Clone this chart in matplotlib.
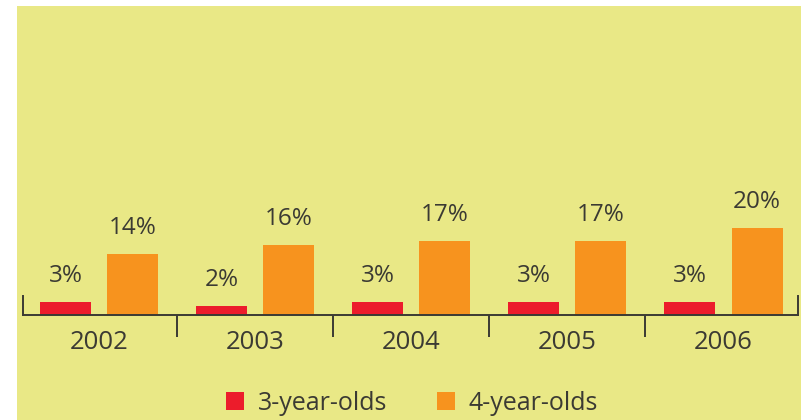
import matplotlib
matplotlib.use("Agg")
import matplotlib.pyplot as plt
import numpy as np
from matplotlib.patches import Rectangle

years = ["2002", "2003", "2004", "2005", "2006"]
three_year_olds = [3, 2, 3, 3, 3]
four_year_olds = [14, 16, 17, 17, 20]

bg = "#e9e886"
red = "#ec1c2b"
orange = "#f7931e"
ink = "#3b3a33"

plt.rcParams["font.family"] = ["Open Sans", "DejaVu Sans"]

fig = plt.figure(figsize=(8.01, 4.2), dpi=100, facecolor="white")
fig.patches.append(Rectangle((17 / 801, 0), 1, 1 - 6 / 420, transform=fig.transFigure,
                             facecolor=bg, edgecolor="none", zorder=-10))

ax = fig.add_axes([23 / 801, 1 - 315 / 420, 775 / 801, 309 / 420])
ax.set_facecolor("none")

x = np.arange(len(years))
w = 0.327
off = 0.215
b1 = ax.bar(x - off, three_year_olds, w, color=red, label="3-year-olds")
b2 = ax.bar(x + off, four_year_olds, w, color=orange, label="4-year-olds")

for bars, vals in [(b1, three_year_olds), (b2, four_year_olds)]:
    for b, v in zip(bars, vals):
        ax.annotate(f"{v}%", (b.get_x() + b.get_width() / 2, v), xytext=(0, 10),
                    textcoords="offset points", ha="center", va="bottom",
                    fontsize=17.5, color=ink)

ax.set_xlim(-0.487, 4.477)
ax.set_ylim(0, 70.9)

ax.spines["top"].set_visible(False)
for s in ["left", "right", "bottom"]:
    ax.spines[s].set_color(ink)
    ax.spines[s].set_linewidth(1.4)
ax.spines["left"].set_bounds(0, 4.4)
ax.spines["right"].set_bounds(0, 4.4)

ax.set_yticks([])
ax.set_xticks(x)
ax.set_xticklabels(years, fontsize=18.5, color=ink)
ax.tick_params(axis="x", which="major", length=0, pad=11)
ax.set_xticks([0.5, 1.5, 2.5, 3.5], minor=True)
ax.tick_params(axis="x", which="minor", length=16, width=1.4, color=ink, direction="out")

fig.legend(handles=[b1, b2], loc="center", bbox_to_anchor=(412 / 801, 1 - 403 / 420),
           ncol=2, frameon=False, fontsize=18, handlelength=0.7, handleheight=0.7,
           handletextpad=0.55, columnspacing=2.0, labelcolor=ink)

fig.savefig("out.png", dpi=100, facecolor="white")
